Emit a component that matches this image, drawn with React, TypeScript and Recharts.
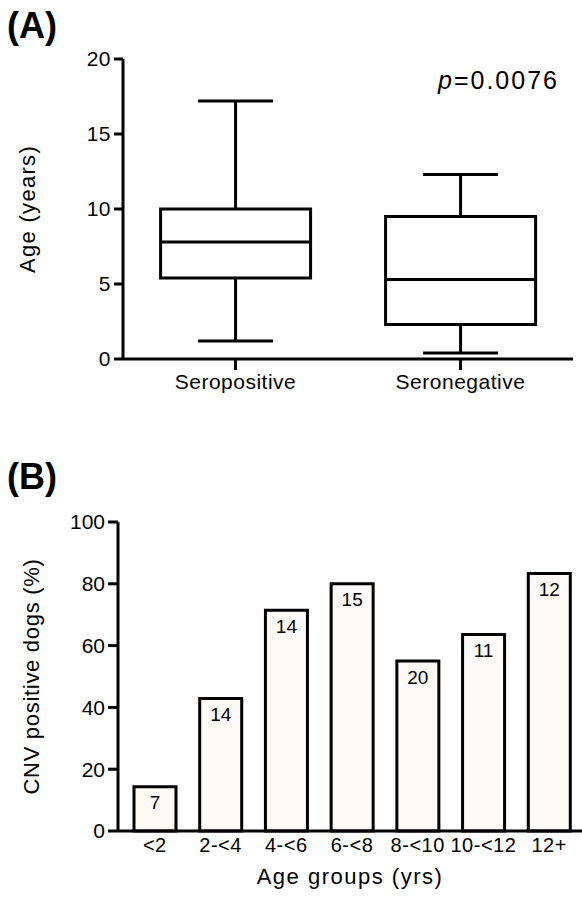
import React from "react";
import { Bar, BarChart, LabelList, XAxis, YAxis } from "recharts";

// panel A: age distribution (box plot)
const groups = ["Seropositive", "Seronegative"];
const whiskerLow = [1.2, 0.4];
const quart1 = [5.4, 2.3];
const medians = [7.8, 5.3];
const quart3 = [10, 9.5];
const whiskerHigh = [17.2, 12.3];
const ageTicks = [0, 5, 10, 15, 20];

// panel B: CNV positive dogs per age group
const ageGroups = ["<2", "2-<4", "4-<6", "6-<8", "8-<10", "10-<12", "12+"];
const positivePct = [14.3, 42.9, 71.4, 80, 55, 63.6, 83.3];
const dogCounts = [7, 14, 14, 15, 20, 11, 12];
const pctTicks = [0, 20, 40, 60, 80, 100];

const boxData = groups.map((g, i) => ({
  group: g,
  min: whiskerLow[i],
  q1: quart1[i],
  median: medians[i],
  q3: quart3[i],
  max: whiskerHigh[i],
  range: [whiskerLow[i], whiskerHigh[i]],
}));

const barData = ageGroups.map((g, i) => ({
  group: g,
  pct: positivePct[i],
  n: dogCounts[i],
}));

const FONT = '"Liberation Sans", Arial, sans-serif';
const axisStyle = { stroke: "#000", strokeWidth: 3 };

function BoxShape(props: any) {
  const { x, y, width, height, payload } = props;
  const { min, max, q1, median, q3 } = payload;
  // linear scale between whisker ends, same as the axis scale
  const toY = (v: number) => y + (height * (max - v)) / (max - min);
  const cx = x + width / 2;
  const cap = width / 2;
  return (
    <g stroke="#000" strokeWidth={3} fill="none">
      <line x1={cx} x2={cx} y1={toY(max)} y2={toY(q3)} />
      <line x1={cx} x2={cx} y1={toY(q1)} y2={toY(min)} />
      <line x1={cx - cap / 2} x2={cx + cap / 2} y1={toY(max)} y2={toY(max)} />
      <line x1={cx - cap / 2} x2={cx + cap / 2} y1={toY(min)} y2={toY(min)} />
      <rect x={x} y={toY(q3)} width={width} height={toY(q1) - toY(q3)} fill="#fff" />
      <line x1={x} x2={x + width} y1={toY(median)} y2={toY(median)} />
    </g>
  );
}

export default function App() {
  return (
    <div
      style={{
        position: "absolute",
        left: 0,
        top: 0,
        width: 582,
        height: 898,
        background: "#fff",
        fontFamily: FONT,
        color: "#000",
      }}
    >
      <div style={{ position: "absolute", left: 7, top: 5, fontSize: 36, fontWeight: 700 }}>(A)</div>
      <div style={{ position: "absolute", left: 7, top: 456, fontSize: 36, fontWeight: 700 }}>(B)</div>
      <div style={{ position: "absolute", left: 438, top: 66, fontSize: 25, letterSpacing: 2 }}>
        <i>p</i>=0.0076
      </div>

      <div style={{ position: "absolute", left: 0, top: 0 }}>
        <BarChart
          width={582}
          height={400}
          data={boxData}
          margin={{ top: 59, right: 9, bottom: 0, left: 0 }}
          barCategoryGap="16.7%"
        >
          <YAxis
            width={123}
            domain={[0, 20]}
            ticks={ageTicks}
            interval={0}
            tickSize={9}
            tickMargin={3}
            axisLine={axisStyle}
            tickLine={axisStyle}
            tick={{ fill: "#000", fontSize: 21, fontFamily: FONT, letterSpacing: 0.5 }}
            label={{
              value: "Age (years)",
              angle: -90,
              position: "insideLeft",
              offset: 27,
              style: { textAnchor: "middle", fill: "#000", fontSize: 22, fontFamily: FONT, letterSpacing: 1.3 },
            }}
          />
          <XAxis
            dataKey="group"
            height={41}
            tickSize={11}
            tickMargin={4}
            axisLine={axisStyle}
            tickLine={axisStyle}
            tick={{ fill: "#000", fontSize: 21, fontFamily: FONT, letterSpacing: 0.5 }}
          />
          <Bar dataKey="range" shape={<BoxShape />} isAnimationActive={false} />
        </BarChart>
      </div>

      <div style={{ position: "absolute", left: 0, top: 460 }}>
        <BarChart
          width={582}
          height={438}
          data={barData}
          margin={{ top: 62, right: 0, bottom: 0, left: 0 }}
        >
          <YAxis
            width={118}
            domain={[0, 100]}
            ticks={pctTicks}
            interval={0}
            tickSize={10}
            tickMargin={3}
            axisLine={axisStyle}
            tickLine={axisStyle}
            tick={{ fill: "#000", fontSize: 21, fontFamily: FONT }}
            label={{
              value: "CNV positive dogs (%)",
              angle: -90,
              position: "insideLeft",
              offset: 31,
              style: { textAnchor: "middle", fill: "#000", fontSize: 22, fontFamily: FONT, letterSpacing: 0.7 },
            }}
          />
          <XAxis
            dataKey="group"
            height={67}
            padding={{ left: 4, right: 0 }}
            interval={0}
            tickLine={false}
            tickSize={0}
            tickMargin={7}
            axisLine={axisStyle}
            tick={{ fill: "#000", fontSize: 20, fontFamily: FONT, letterSpacing: 0.5 }}
            label={{
              value: "Age groups (yrs)",
              position: "insideBottom",
              offset: 14,
              style: { fill: "#000", fontSize: 22, fontFamily: FONT, letterSpacing: 1.5 },
            }}
          />
          <Bar
            dataKey="pct"
            barSize={42}
            fill="#fffaf7"
            stroke="#000"
            strokeWidth={3}
            isAnimationActive={false}
          >
            <LabelList
              dataKey="n"
              position="insideTop"
              offset={9}
              fill="#000"
              fontSize={19}
              fontFamily={FONT}
            />
          </Bar>
        </BarChart>
      </div>
    </div>
  );
}
